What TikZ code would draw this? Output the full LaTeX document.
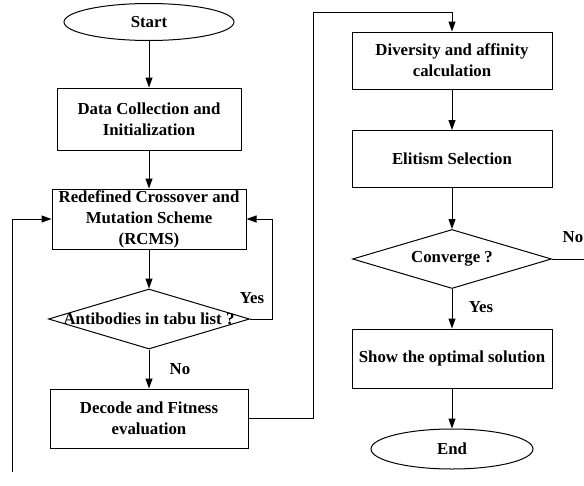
\documentclass[tikz,border=0pt]{standalone}
\usepackage{fontspec}
\setmainfont{Liberation Serif}
\usetikzlibrary{shapes.geometric,arrows.meta}
\begin{document}
\begin{tikzpicture}[x=1pt,y=-1pt,
  every node/.style={font=\bfseries\fontsize{16.8}{21}\selectfont, inner sep=0pt},
  box/.style={draw, line width=1pt, align=center},
  oval/.style={draw, line width=1pt, ellipse},
  dia/.style={draw, line width=1pt, diamond},
  arr/.style={line width=1pt, -{Triangle[length=10pt,width=7pt]}},
  ln/.style={line width=1pt}]
\useasboundingbox (0,0) rectangle (584,485);
% left column
\node[oval, minimum width=170, minimum height=37] (start) at (149,22) {Start};
\node[box, minimum width=184, minimum height=62] (data) at (149,119) {Data Collection and\\Initialization};
\node[box, minimum width=194, minimum height=60] (rcms) at (149,219) {Redefined Crossover and\\Mutation Scheme\\(RCMS)};
\node[dia, minimum width=201, minimum height=60] (tabu) at (149,319) {\makebox[0pt]{Antibodies in tabu list ?}};
\node[box, minimum width=198, minimum height=59] (decode) at (149,418.5) {Decode and Fitness\\evaluation};
% right column
\node[box, minimum width=200, minimum height=57] (div) at (452,60.5) {Diversity and affinity\\calculation};
\node[box, minimum width=200, minimum height=57] (elit) at (452,159) {Elitism Selection};
\node[dia, minimum width=199, minimum height=59] (conv) at (452,259) {\makebox[0pt]{Converge ?}};
\node[box, minimum width=200, minimum height=59] (show) at (452,358.5) {Show the optimal solution};
\node[oval, minimum width=162, minimum height=40] (end) at (452,449) {End};
% labels
\node (yes1) at (252,298) {Yes};
\node (no1) at (180,369) {No};
\node (no2) at (573,237) {No};
\node (yes2) at (481,307) {Yes};
% connectors
\draw[arr] (start.south) -- (data.north);
\draw[arr] (data.south) -- (rcms.north);
\draw[arr] (rcms.south) -- (tabu.north);
\draw[arr] (tabu.south) -- (decode.north);
\draw[arr] (tabu.east) -- ++(22,0) |- (rcms.east);
\coordinate (lb) at (12,472);
\draw[arr] (lb) |- (rcms.west);
\coordinate (top) at (313,12);
\draw[arr] (decode.east) -| (top) -| (div.north);
\draw[arr] (div.south) -- (elit.north);
\draw[arr] (elit.south) -- (conv.north);
\draw[arr] (conv.south) -- (show.north);
\draw[arr] (show.south) -- (end.north);
\coordinate (nr) at (584,259);
\draw[ln] (conv.east) -- (nr);
\end{tikzpicture}
\end{document}
